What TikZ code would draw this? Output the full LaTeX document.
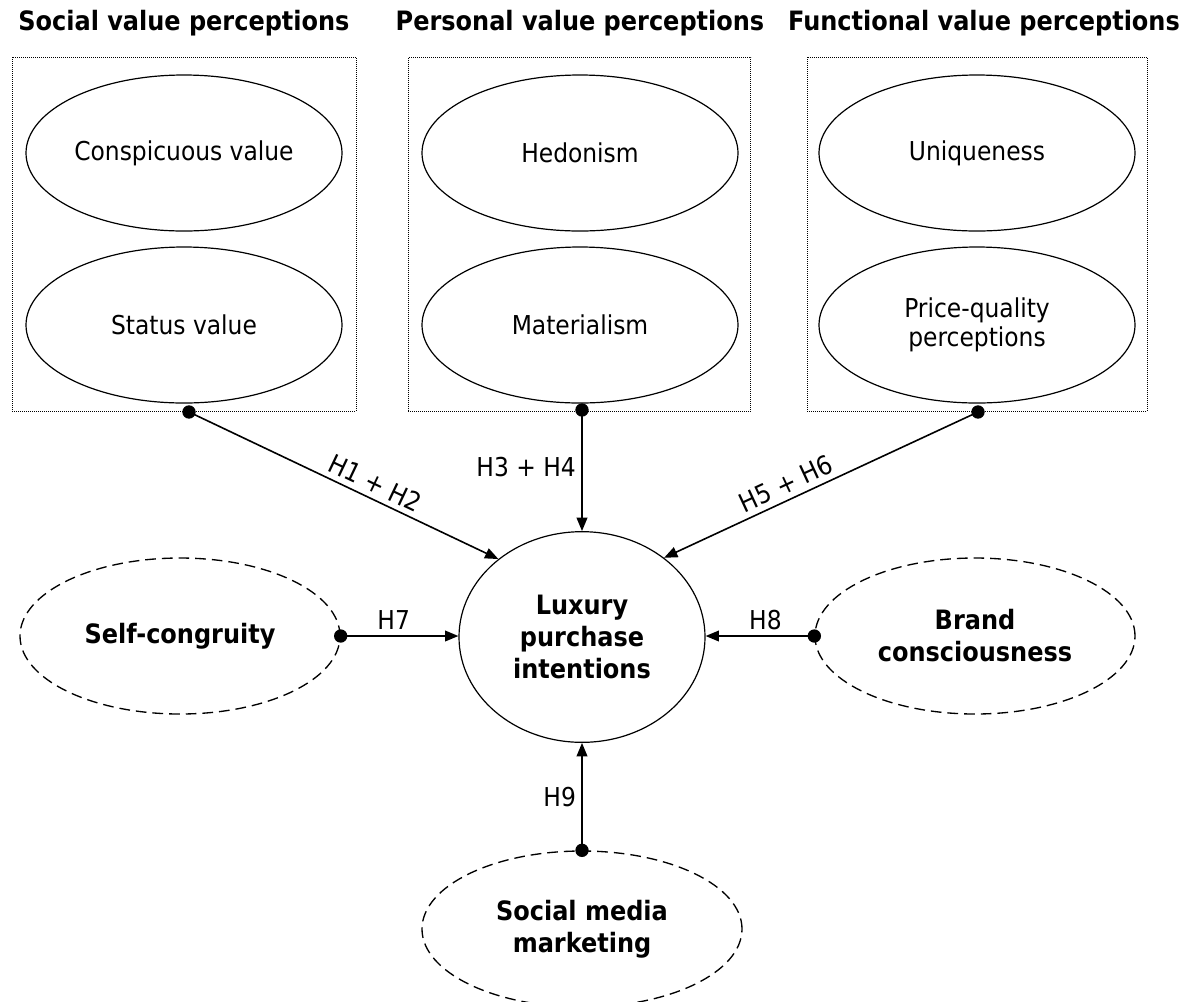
\documentclass[tikz,border=0pt]{standalone}
\usepackage{fontspec}
\setmainfont{DejaVu Sans Condensed}
\usetikzlibrary{shapes.geometric,arrows.meta}

\begin{document}
\begin{tikzpicture}[x=0.75pt,y=-0.75pt,
    txt/.style={font=\fontsize{19.5}{24}\selectfont},
    hdr/.style={font=\bfseries\fontsize{20}{24}\selectfont},
    grp/.style={draw, line width=0.75pt, dash pattern=on 0.75pt off 0.75pt, minimum height=265.5pt, inner sep=0pt},
    val/.style={ellipse, draw, line width=0.9pt, minimum width=237pt, minimum height=117pt, inner sep=0pt, align=center, txt},
    mod/.style={val, line width=1pt, dash pattern=on 8pt off 4.5pt, minimum width=240pt, font=\bfseries\fontsize{20}{24}\selectfont},
    dot/.style={circle, fill, inner sep=0pt, minimum size=10pt},
    hyp/.style={-{Triangle[length=10pt,width=8pt]}, line width=1.2pt},
    lab/.style={txt, inner sep=4pt}]
\useasboundingbox (0,0) rectangle (1192,1001);

% value perception groups
\node[hdr] (sochdr) at (184,23) {Social value perceptions};
\node[hdr] (perhdr) at (580,23) {Personal value perceptions};
\node[hdr] (funhdr) at (984,23) {Functional value perceptions};
\node[grp, minimum width=258pt] (socbox) at (184,234) {};
\node[grp, minimum width=257pt] (perbox) at (579.5,234) {};
\node[grp, minimum width=255pt] (funbox) at (977,234) {};
\node[val] (consp) at (184,153) {Conspicuous value};
\node[val] (status) at (184,325) {Status value};
\node[val] (hedon) at (580,153) {Hedonism};
\node[val] (mater) at (580,325) {Materialism};
\node[val] (uniq) at (977,153) {Uniqueness};
\node[val] (price) at (977,325) {Price-quality\\[-2pt]perceptions};

% outcome and other drivers
\node[ellipse, draw, line width=0.9pt, minimum width=184.5pt, minimum height=158pt, inner sep=0pt, align=center, hdr] (lpi) at (582,637) {Luxury\\purchase\\intentions};
\node[mod] (selfc) at (180,636) {Self-congruity};
\node[mod] (brand) at (975,636) {Brand\\consciousness};
\node[mod] (smm) at (582,929) {Social media\\marketing};

% hypothesised paths
\node[dot] (socdot) at (189,412) {};
\node[dot] (perdot) at (582,410) {};
\node[dot] (fundot) at (978,412) {};
\node[dot] (selfdot) at (selfc.east) {};
\node[dot] (branddot) at (brand.west) {};
\node[dot] (smmdot) at (smm.north) {};
\draw[hyp] (socdot.center) -- node[lab, pos=0.58, above, sloped] {H1 + H2} (lpi.137);
\draw[hyp] (perdot.center) -- node[lab, pos=0.47, left] {H3 + H4} (lpi.north);
\draw[hyp] (fundot.center) -- node[lab, pos=0.59, above, sloped] {H5 + H6} (lpi.44);
\draw[hyp] (selfdot.center) -- node[lab, pos=0.45, above] {H7} (lpi.west |- selfdot);
\draw[hyp] (branddot.center) -- node[lab, pos=0.45, above] {H8} (lpi.east |- branddot);
\draw[hyp] (smmdot.center) -- node[lab, midway, left] {H9} (lpi.south);
\end{tikzpicture}
\end{document}
